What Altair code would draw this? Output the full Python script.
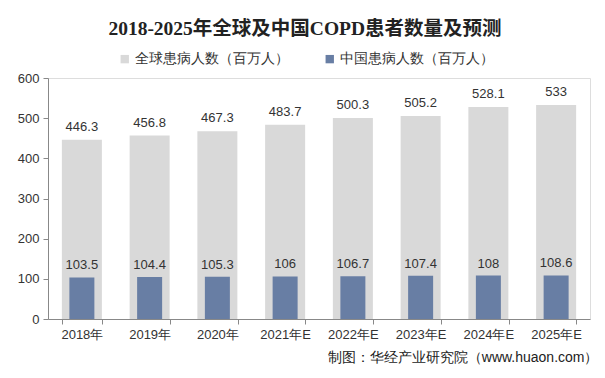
import altair as alt
import pandas as pd

years = ["2018年", "2019年", "2020年", "2021年E", "2022年E", "2023年E", "2024年E", "2025年E"]
global_vals = [446.3, 456.8, 467.3, 483.7, 500.3, 505.2, 528.1, 533]
china_vals = [103.5, 104.4, 105.3, 106, 106.7, 107.4, 108, 108.6]
series_names = ["全球患病人数（百万人）", "中国患病人数（百万人）"]
colors = ["#D9D9D9", "#687EA4"]

rows = []
for y, g, c in zip(years, global_vals, china_vals):
    rows.append({"year": y, "series": series_names[0], "value": g})
    rows.append({"year": y, "series": series_names[1], "value": c})
df = pd.DataFrame(rows)

FONT = "Liberation Sans, Noto Sans CJK SC"

x = alt.X("year:N", sort=years,
          scale=alt.Scale(paddingInner=0.4, paddingOuter=0.2),
          axis=alt.Axis(title="制图：华经产业研究院（www.huaon.com）", titleX=550, titleAlign="right",
                        titleFontSize=14, titleFontWeight="normal", titleColor="#222",
                        titlePadding=9, labelAngle=0, labelFontSize=13, labelColor="#333",
                        labelPadding=4, tickBand="extent", tickSize=5, tickColor="#888",
                        domainColor="#888"))
y = alt.Y("value:Q", scale=alt.Scale(domain=[0, 600], nice=False),
          axis=alt.Axis(title=None, values=[0, 100, 200, 300, 400, 500, 600], grid=False,
                        labelFontSize=13, labelColor="#333", tickSize=5, tickColor="#888",
                        domainColor="#888", labelPadding=4))
color = alt.Color("series:N", scale=alt.Scale(domain=series_names, range=colors),
                  legend=alt.Legend(title=None, orient="none", direction="horizontal",
                                    legendX=70, legendY=-26, symbolType="square",
                                    symbolSize=70, symbolStrokeWidth=0, labelFontSize=13.5,
                                    labelColor="#333", columnPadding=34, labelOffset=3))

base = alt.Chart(df)
g_bar = base.transform_filter(alt.datum.series == series_names[0]).mark_bar(size=40).encode(x=x, y=y, color=color)
c_bar = base.transform_filter(alt.datum.series == series_names[1]).mark_bar(size=25).encode(x=x, y=y, color=color)
g_txt = base.transform_filter(alt.datum.series == series_names[0]).mark_text(
    dy=-13, fontSize=13, color="#333", font=FONT).encode(x=x, y=y, text="value:Q")
c_txt = base.transform_filter(alt.datum.series == series_names[1]).mark_text(
    dy=-12, fontSize=13, color="#333", font=FONT).encode(x=x, y=y, text="value:Q")

chart = alt.layer(g_bar, c_bar, g_txt, c_txt).properties(
    width=542, height=241,
    autosize=alt.AutoSizeParams(type="none"),
    padding={"left": 40, "top": 70, "right": 7, "bottom": 51},
    title=alt.TitleParams("2018-2025年全球及中国COPD患者数量及预测", anchor="middle",
                          fontSize=19.5, fontWeight="bold", font="Liberation Serif, Noto Sans CJK SC",
                          color="#222", offset=13, dx=-14),
).configure_view(stroke=None).configure_axis(labelFont=FONT, titleFont=FONT).configure_legend(
    labelFont=FONT).configure(background="white")

chart.save("out.html", embed_options={"renderer": "svg", "actions": False})
